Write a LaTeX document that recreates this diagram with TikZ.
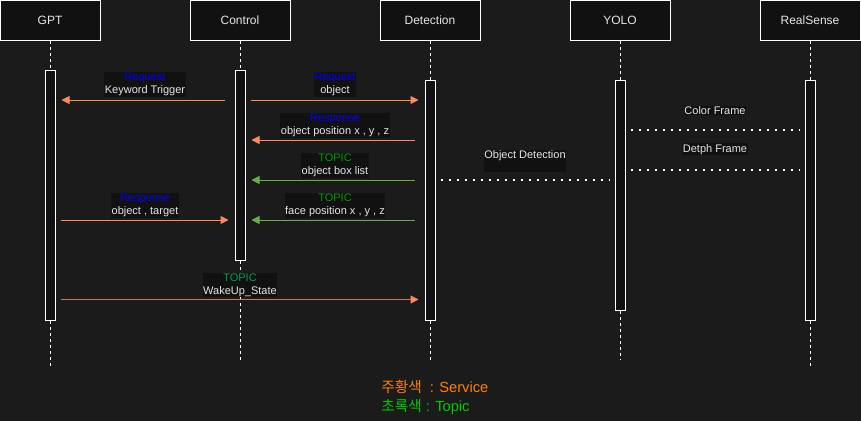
\documentclass[tikz,border=0pt]{standalone}
\usepackage{fontspec}
\setmainfont{Liberation Sans}
\newfontfamily\krfont{Noto Sans CJK KR}
\usetikzlibrary{arrows.meta}

\definecolor{bgcol}{HTML}{1B1B1B}
\definecolor{boxcol}{HTML}{111111}
\definecolor{txtcol}{HTML}{E6E6E6}
\definecolor{servicecol}{HTML}{FF8A5C}
\definecolor{wakecol}{HTML}{C4785A}
\definecolor{topiccol}{HTML}{6AAF45}
\definecolor{reqblue}{HTML}{0000FF}
\definecolor{topicgreen}{HTML}{009900}
\definecolor{wakegreen}{HTML}{00A050}
\definecolor{legorange}{HTML}{FF8000}
\definecolor{leggreen}{HTML}{00CC00}

\begin{document}
\begin{tikzpicture}[x = .75pt, y = -.75pt]
			    \tikzstyle{header}=[draw=white,line width = .75pt,fill=boxcol,text=txtcol,minimum width=75pt,minimum height=30pt,inner sep=0pt,font=\fontsize{9}{11}\selectfont]
			    \tikzstyle{bar}=[draw=white,line width = .75pt,fill=boxcol,minimum width=7.5pt,inner sep=0pt]
			    \tikzstyle{lifeline}=[draw=white,line width = .75pt,dash pattern=on 2.25pt off 2.25pt]
			    \tikzstyle{service}=[draw=servicecol,line width = .75pt,-{Triangle[length=6pt,width=6pt]},shorten <=3.75pt,shorten >=4.5pt]
			    \tikzstyle{topic}=[draw=topiccol,line width = .75pt,-{Triangle[length=6pt,width=6pt]},shorten <=7.5pt,shorten >=4.5pt]
			    \tikzstyle{frame}=[draw=white,line width = 1.5pt,dash pattern=on 1.5pt off 4.5pt,shorten <=3.75pt,shorten >=3.75pt]
			    \tikzstyle{lbl}=[fill=boxcol,text=txtcol,align=center,inner sep=.5pt,font=\fontsize{8.25}{9.75}\selectfont]
			    \fill[bgcol] (0,0) rectangle (861,421);
			    \useasboundingbox (0,0) rectangle (861,421);
			    % participants
			    \node[header] (gpt) at (50,20) {GPT};
			    \node[header] (control) at (240,20) {Control};
			    \node[header] (detection) at (430,20) {Detection};
			    \node[header] (yolo) at (620,20) {YOLO};
			    \node[header] (realsense) at (810,20) {RealSense};
			    \coordinate (gptend) at (50,367);
			    \coordinate (controlend) at (240,360);
			    \coordinate (detectionend) at (430,360);
			    \coordinate (yoloend) at (620,360);
			    \coordinate (realsenseend) at (810,367);
			    \node[bar,minimum height=187.5pt] (gptbar) at (50,195) {};
			    \node[bar,minimum height=142.5pt] (controlbar) at (240,165) {};
			    \node[bar,minimum height=180pt] (detectionbar) at (430,200) {};
			    \node[bar,minimum height=172.5pt] (yolobar) at (620,195) {};
			    \node[bar,minimum height=180pt] (realsensebar) at (810,200) {};
			    \draw[lifeline] (gpt.south) -- (gptbar.north) (gptbar.south) -- (gptend);
			    \draw[lifeline] (control.south) -- (controlbar.north) (controlbar.south) -- (controlend);
			    \draw[lifeline] (detection.south) -- (detectionbar.north) (detectionbar.south) -- (detectionend);
			    \draw[lifeline] (yolo.south) -- (yolobar.north) (yolobar.south) -- (yoloend);
			    \draw[lifeline] (realsense.south) -- (realsensebar.north) (realsensebar.south) -- (realsenseend);
			    % messages
			    \draw[service,shorten <=7.5pt] (controlbar.west |- 0,100) -- (gptbar.east |- 0,100) node[lbl,midway,above=2.25pt] (kwlbl) {{\color{reqblue}Request}\\Keyword Trigger};
			    \draw[service] (controlbar.east |- 0,100) -- (detectionbar.west |- 0,100) node[lbl,midway,above=2.25pt] (objlbl) {{\color{reqblue}Request}\\object};
			    \draw[service,shorten <=7.5pt] (detectionbar.west |- 0,140) -- (controlbar.east |- 0,140) node[lbl,midway,above=1.5pt] (poslbl) {{\color{reqblue}Response}\\object position x , y , z};
			    \draw[topic] (detectionbar.west |- 0,180) -- (controlbar.east |- 0,180) node[lbl,midway,above=1.5pt] (boxlbl) {{\color{topicgreen}TOPIC}\\object box list};
			    \draw[service] (gptbar.east |- 0,220) -- (controlbar.west |- 0,220) node[lbl,midway,above=1.5pt] (tgtlbl) {{\color{reqblue}Response}\\object , target};
			    \draw[topic] (detectionbar.west |- 0,220) -- (controlbar.east |- 0,220) node[lbl,midway,above=1.5pt] (facelbl) {{\color{topicgreen}TOPIC}\\face position x , y , z};
			    \draw[service,draw=wakecol,-{Triangle[length=6pt,width=6pt,color=servicecol]}] (gptbar.east |- 0,299.5) -- (detectionbar.west |- 0,299.5) node[lbl,midway,above=1.5pt] (wakelbl) {{\color{wakegreen}TOPIC}\\WakeUp\_State};
			    \draw[frame] (detectionbar.east |- 0,180) -- (yolobar.west |- 0,180) node[lbl,midway,above=5.25pt] (odlbl) {Object Detection\\ \mbox{}};
			    \draw[frame] (yolobar.east |- 0,130) -- (realsensebar.west |- 0,130) node[lbl,midway,above=10.5pt] (colorlbl) {Color Frame};
			    \draw[frame] (yolobar.east |- 0,170) -- (realsensebar.west |- 0,170) node[lbl,midway,above=10.5pt] (depthlbl) {Detph Frame};
			    % legend
			    \node[anchor=north west,align=left,inner sep=0pt,font=\fontsize{11}{14.25}\selectfont] (legend) at (381,380) {{\color{legorange}{\krfont 주황색}\ \ : Service}\\{\color{leggreen}{\krfont 초록색} : Topic}};
			\end{tikzpicture}
\end{document}
